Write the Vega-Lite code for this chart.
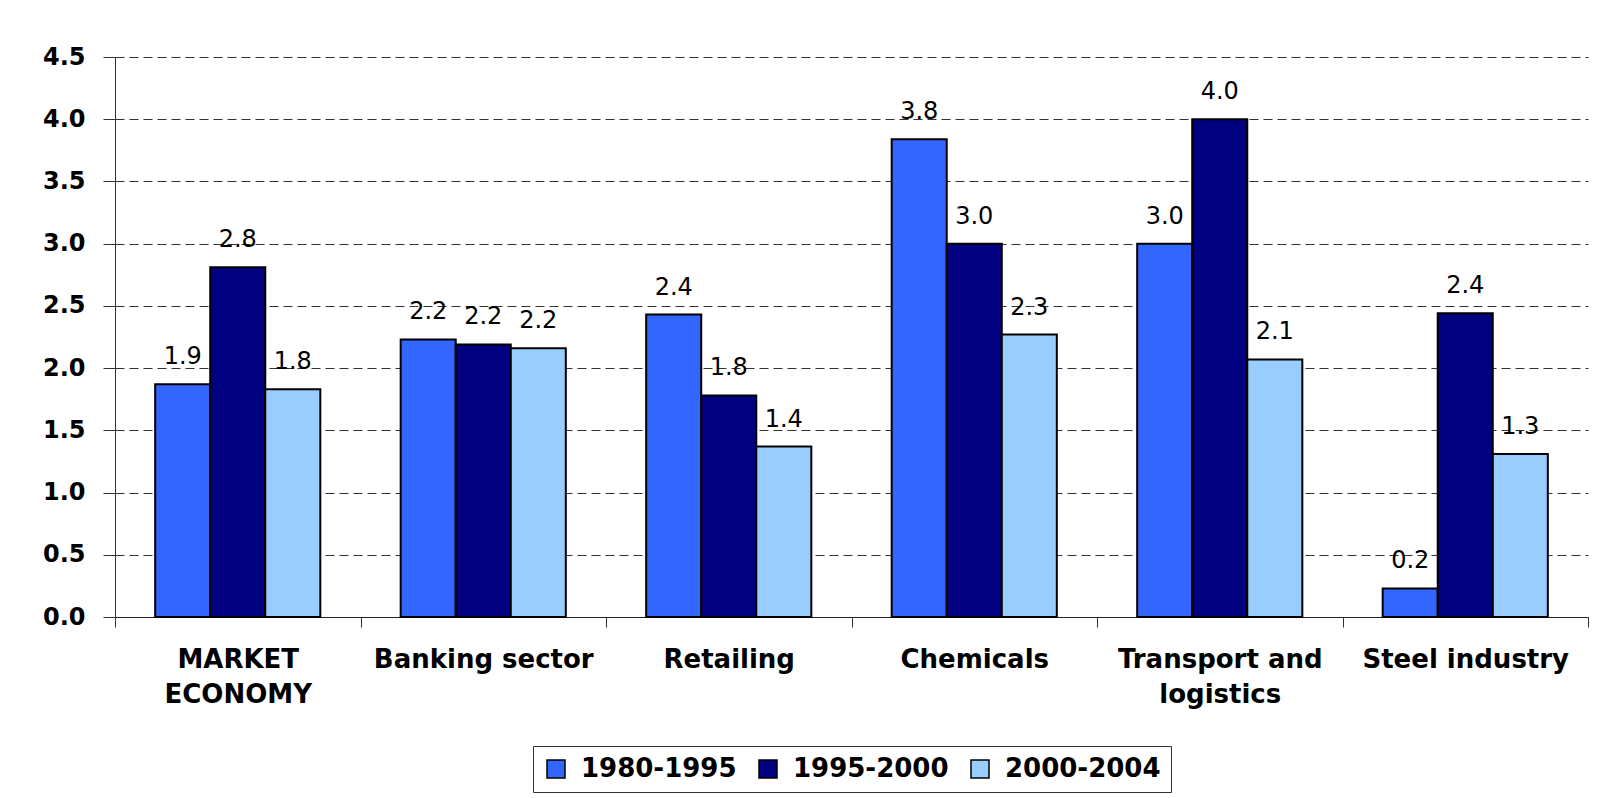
{
  "$schema": "https://vega.github.io/schema/vega-lite/v6.json",
  "width": 1473,
  "height": 560,
  "autosize": {"type": "none"},
  "padding": {"left": 115, "top": 57, "right": 10, "bottom": 181},
  "background": "white",
  "config": {"view": {"stroke": null}, "font": "DejaVu Sans"},
  "data": {
    "values": [
      {"sector": "MARKET ECONOMY", "period": "1980-1995", "value": 1.87},
      {"sector": "MARKET ECONOMY", "period": "1995-2000", "value": 2.81},
      {"sector": "MARKET ECONOMY", "period": "2000-2004", "value": 1.83},
      {"sector": "Banking sector", "period": "1980-1995", "value": 2.23},
      {"sector": "Banking sector", "period": "1995-2000", "value": 2.19},
      {"sector": "Banking sector", "period": "2000-2004", "value": 2.16},
      {"sector": "Retailing", "period": "1980-1995", "value": 2.43},
      {"sector": "Retailing", "period": "1995-2000", "value": 1.78},
      {"sector": "Retailing", "period": "2000-2004", "value": 1.37},
      {"sector": "Chemicals", "period": "1980-1995", "value": 3.84},
      {"sector": "Chemicals", "period": "1995-2000", "value": 3.0},
      {"sector": "Chemicals", "period": "2000-2004", "value": 2.27},
      {"sector": "Transport and logistics", "period": "1980-1995", "value": 3.0},
      {"sector": "Transport and logistics", "period": "1995-2000", "value": 4.0},
      {"sector": "Transport and logistics", "period": "2000-2004", "value": 2.07},
      {"sector": "Steel industry", "period": "1980-1995", "value": 0.23},
      {"sector": "Steel industry", "period": "1995-2000", "value": 2.44},
      {"sector": "Steel industry", "period": "2000-2004", "value": 1.31}
    ]
  },
  "encoding": {
    "x": {
      "field": "sector",
      "type": "nominal",
      "sort": null,
      "scale": {"paddingInner": 0, "paddingOuter": 0},
      "axis": {
        "title": null,
        "labelAngle": 0,
        "labelFont": "DejaVu Sans",
        "labelFontWeight": "bold",
        "labelFontSize": 26,
        "labelColor": "black",
        "labelPadding": 19,
        "labelLineHeight": 35,
        "labelBaseline": "top",
        "labelLimit": 400,
        "labelOverlap": false,
        "labelBound": false,
        "tickBand": "extent",
        "tickSize": 10,
        "tickColor": "#333333",
        "domainColor": "#222222",
        "grid": false,
        "labelExpr": "datum.label == 'MARKET ECONOMY' ? ['MARKET', 'ECONOMY'] : datum.label == 'Transport and logistics' ? ['Transport and', 'logistics'] : datum.label"
      }
    },
    "xOffset": {
      "field": "period",
      "type": "nominal",
      "sort": null,
      "scale": {"paddingInner": 0, "paddingOuter": 0.73}
    },
    "y": {
      "field": "value",
      "type": "quantitative",
      "scale": {"domain": [0, 4.5], "nice": false, "zero": true},
      "axis": {
        "title": null,
        "values": [0, 0.5, 1, 1.5, 2, 2.5, 3, 3.5, 4, 4.5],
        "format": ".1f",
        "labelFont": "DejaVu Sans",
        "labelFontSize": 24,
        "labelFontWeight": "bold",
        "labelColor": "black",
        "labelPadding": 18,
        "tickSize": 12,
        "tickColor": "#333333",
        "domainColor": "#333333",
        "grid": true,
        "gridDash": [9, 5],
        "gridColor": "#333333",
        "gridWidth": 1
      }
    }
  },
  "layer": [
    {
      "mark": {"type": "bar", "stroke": "black", "strokeWidth": 2},
      "encoding": {
        "color": {
          "field": "period",
          "type": "nominal",
          "sort": null,
          "scale": {
            "domain": ["1980-1995", "1995-2000", "2000-2004"],
            "range": ["#3366FF", "#000080", "#99CCFF"]
          },
          "legend": {
            "title": null,
            "orient": "none",
            "legendX": 418,
            "legendY": 689,
            "direction": "horizontal",
            "symbolType": "square",
            "symbolSize": 324,
            "symbolStrokeColor": "black",
            "symbolStrokeWidth": 1.5,
            "symbolOpacity": 1,
            "labelFont": "DejaVu Sans",
            "labelFontSize": 26,
            "labelFontWeight": "bold",
            "labelColor": "black",
            "labelOffset": 12,
            "labelLimit": 300,
            "columnPadding": 18,
            "padding": 10,
            "strokeColor": "#333333",
            "fillColor": "white"
          }
        }
      }
    },
    {
      "mark": {
        "type": "text",
        "dy": -20,
        "baseline": "alphabetic",
        "fontSize": 24,
        "font": "DejaVu Sans",
        "color": "black"
      },
      "encoding": {
        "text": {"field": "value", "type": "quantitative", "format": ".1f"}
      }
    }
  ]
}
